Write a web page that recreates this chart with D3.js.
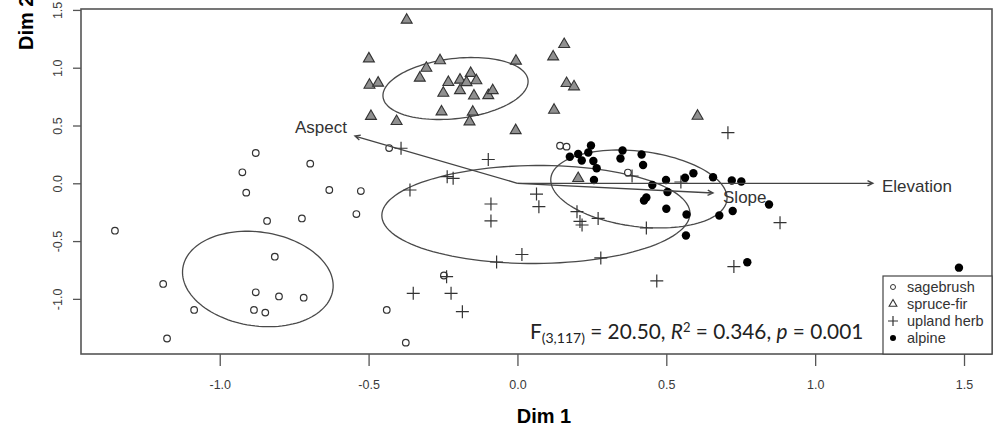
<!DOCTYPE html>
<html lang="en">
<head>
<meta charset="utf-8">
<title>NMDS of vegetation types</title>
<style>
  body { margin: 0; background: #fff; }
  svg { display: block; font-family: "Liberation Sans", Arial, sans-serif; }
  .tick line { stroke: #555; stroke-width: 1.3px; }
  .frame { fill: none; stroke: #555; stroke-width: 1.6px; }
  .ell { fill: none; stroke: #4a4a4a; stroke-width: 1.3px; }
  .vec { stroke: #444; stroke-width: 1.3px; fill: none; }
  .veclab { fill: #333; font-size: 17px; }
  .sage { fill: #fff; stroke: #333; stroke-width: 1.2px; }
  .spruce { fill: #909090; stroke: #333; stroke-width: 1.1px; }
  .herb { stroke: #333; stroke-width: 1.2px; fill: none; }
  .alpine { fill: #000; }
  .legend text { fill: #333; font-size: 14.5px; }
</style>
<script src="https://cdnjs.cloudflare.com/ajax/libs/d3/7.8.5/d3.min.js"></script>
</head>
<body>
<script>
// site scores (Dim 1, Dim 2)
var sagebrush = [
  [-1.352, -0.410], [-0.879, 0.262], [-0.924, 0.095], [-0.911, -0.081], [-0.696, 0.170],
  [-0.632, -0.058], [-0.526, -0.067], [-0.541, -0.266], [-0.841, -0.326], [-0.724, -0.304],
  [-0.815, -0.635], [-1.190, -0.871], [-0.879, -0.943], [-0.801, -0.979], [-0.718, -0.990],
  [-1.086, -1.096], [-0.885, -1.096], [-0.847, -1.119], [-1.177, -1.343], [-0.431, 0.305],
  [-0.247, -0.798], [0.143, 0.325], [0.165, 0.317], [-0.439, -1.096], [-0.375, -1.379],
  [0.371, 0.093]
];
var spruceFir = [
  [-0.372, 1.413], [-0.499, 1.078], [-0.260, 1.062], [-0.306, 0.997], [-0.328, 0.911],
  [-0.005, 1.058], [0.157, 1.202], [0.120, 1.095], [-0.497, 0.850], [-0.468, 0.868],
  [-0.232, 0.874], [-0.193, 0.894], [-0.157, 0.952], [-0.138, 0.889], [-0.171, 0.872],
  [-0.249, 0.781], [-0.193, 0.803], [-0.146, 0.757], [-0.098, 0.760], [-0.083, 0.803],
  [0.165, 0.865], [0.190, 0.836], [-0.492, 0.580], [-0.406, 0.536], [-0.255, 0.619],
  [-0.150, 0.617], [-0.161, 0.533], [0.123, 0.634], [-0.006, 0.457], [0.605, 0.582],
  [0.204, 0.043]
];
var uplandHerb = [
  [-0.391, 0.303], [-0.098, 0.206], [-0.236, 0.057], [-0.216, 0.043], [-0.361, -0.058],
  [-0.089, -0.179], [-0.089, -0.326], [0.064, -0.093], [0.072, -0.202], [0.200, -0.246],
  [0.210, -0.330], [0.217, -0.361], [0.271, -0.304], [0.433, -0.387], [-0.070, -0.681],
  [0.015, -0.616], [0.280, -0.646], [0.468, -0.845], [-0.238, -0.808], [-0.350, -0.952],
  [-0.223, -0.952], [-0.185, -1.111], [0.707, 0.438], [0.549, 0.011], [0.882, -0.341],
  [0.727, -0.721], [0.385, 0.063]
];
var alpine = [
  [0.247, 0.327], [0.238, 0.266], [0.204, 0.253], [0.176, 0.230], [0.216, 0.197],
  [0.255, 0.193], [0.266, 0.130], [0.257, 0.029], [0.353, 0.284], [0.346, 0.215],
  [0.417, 0.249], [0.422, 0.158], [0.453, -0.015], [0.499, 0.029], [0.504, -0.075],
  [0.433, -0.123], [0.425, -0.149], [0.500, -0.220], [0.563, 0.048], [0.591, 0.087],
  [0.657, 0.052], [0.720, 0.024], [0.752, 0.016], [0.568, -0.270], [0.678, -0.279],
  [0.723, -0.240], [0.845, -0.183], [0.566, -0.452], [0.772, -0.683], [1.483, -0.730]
];

// group ellipses: centre and two conjugate semi-axes, in data units
var ellipseGroups = ["sagebrush", "spruce-fir", "upland herb", "alpine"];
var ellipseCentre = [[-0.872, -0.828], [-0.208, 0.820], [0.062, -0.270], [0.408, -0.049]];
var ellipseAxisU = [[0.252, -0.095], [0.2435, 0.0735], [0.5175, 0.0087], [0.2957, -0.0952]];
var ellipseAxisV = [[-0.0228, -0.402], [-0.0118, 0.258], [0.0, 0.424], [0.0158, 0.3235]];

// fitted environmental vectors
var vectorNames = ["Aspect", "Elevation", "Slope"];
var vectorTips = [[-0.546, 0.409], [1.194, 0.0], [0.657, -0.084]];

var xTicks = [-1.0, -0.5, 0.0, 0.5, 1.0, 1.5];
var yTicks = [-1.0, -0.5, 0.0, 0.5, 1.0, 1.5];
var legendLabels = ["sagebrush", "spruce-fir", "upland herb", "alpine"];

var width = 994, height = 428;
var pLeft = 81, pRight = 992, pTop = 9, pBottom = 354;

var x = d3.scaleLinear().domain([-1.466, 1.594]).range([pLeft, pRight]);
var y = d3.scaleLinear().domain([-1.477, 1.508]).range([pBottom, pTop]);

var svg = d3.select("body").append("svg")
  .attr("width", width)
  .attr("height", height);

// axes
var xAxis = d3.axisBottom(x).tickValues(xTicks).tickSize(12)
  .tickFormat(function(d){ return d.toFixed(1); });
var yAxis = d3.axisLeft(y).tickValues(yTicks).tickSize(8)
  .tickFormat(function(d){ return d.toFixed(1); });

var gx = svg.append("g")
  .attr("class", "x axis")
  .attr("transform", "translate(0," + pBottom + ")")
  .call(xAxis);
gx.select(".domain").remove();
gx.selectAll(".tick text")
  .attr("y", 35).attr("dy", 0)
  .style("font-family", "'Liberation Sans', Arial, sans-serif")
  .style("font-size", "12.5px").style("fill", "#3a3a3a");

var gy = svg.append("g")
  .attr("class", "y axis")
  .attr("transform", "translate(" + pLeft + ",0)")
  .call(yAxis);
gy.select(".domain").remove();
gy.selectAll(".tick text")
  .attr("x", 0).attr("dy", 0)
  .attr("text-anchor", "middle")
  .attr("transform", "translate(-19,0) rotate(-90)")
  .style("font-family", "'Liberation Sans', Arial, sans-serif")
  .style("font-size", "12.5px").style("fill", "#3a3a3a");

svg.append("rect")
  .attr("class", "frame")
  .attr("x", pLeft).attr("y", pTop)
  .attr("width", pRight - pLeft).attr("height", pBottom - pTop);

svg.append("text")
  .attr("x", 544).attr("y", 423)
  .attr("text-anchor", "middle")
  .style("font-weight", "bold").style("font-size", "20px")
  .text("Dim 1");

svg.append("text")
  .attr("transform", "translate(33,50) rotate(-90)")
  .style("font-weight", "bold").style("font-size", "20px")
  .text("Dim 2");

// ellipses
var line = d3.line().curve(d3.curveLinearClosed);
var steps = d3.range(0, 2 * Math.PI, Math.PI / 60);
svg.append("g").selectAll("path")
  .data(ellipseGroups)
  .enter()
  .append("path")
  .attr("class", "ell")
  .attr("d", function(d, i){
    var c = ellipseCentre[i], u = ellipseAxisU[i], v = ellipseAxisV[i];
    return line(steps.map(function(t){
      return [x(c[0] + u[0] * Math.cos(t) + v[0] * Math.sin(t)),
              y(c[1] + u[1] * Math.cos(t) + v[1] * Math.sin(t))];
    }));
  });

// points
var pts = svg.append("g");
pts.selectAll(".sage")
  .data(sagebrush)
  .enter().append("circle")
  .attr("class", "sage")
  .attr("cx", function(d){ return x(d[0]); })
  .attr("cy", function(d){ return y(d[1]); })
  .attr("r", 3.3);

var tri = d3.symbol().type(d3.symbolTriangle).size(52);
pts.selectAll(".spruce")
  .data(spruceFir)
  .enter().append("path")
  .attr("class", "spruce")
  .attr("d", tri)
  .attr("transform", function(d){ return "translate(" + x(d[0]) + "," + y(d[1]) + ")"; });

pts.selectAll(".herb")
  .data(uplandHerb)
  .enter().append("path")
  .attr("class", "herb")
  .attr("d", function(d){
    var px = x(d[0]), py = y(d[1]), a = 6.5;
    return "M" + (px - a) + "," + py + "H" + (px + a) + "M" + px + "," + (py - a) + "V" + (py + a);
  });

pts.selectAll(".alpine")
  .data(alpine)
  .enter().append("circle")
  .attr("class", "alpine")
  .attr("cx", function(d){ return x(d[0]); })
  .attr("cy", function(d){ return y(d[1]); })
  .attr("r", 4.2);

// environmental vectors
var vec = svg.append("g");
vectorTips.forEach(function(t, i){
  var x0 = x(0), y0 = y(0), x1 = x(t[0]), y1 = y(t[1]);
  var ang = Math.atan2(y1 - y0, x1 - x0), h = 6, s = Math.PI / 7;
  vec.append("path")
    .attr("class", "vec")
    .attr("d", "M" + x0 + "," + y0 + "L" + x1 + "," + y1 +
      "M" + (x1 - h * Math.cos(ang - s)) + "," + (y1 - h * Math.sin(ang - s)) +
      "L" + x1 + "," + y1 +
      "L" + (x1 - h * Math.cos(ang + s)) + "," + (y1 - h * Math.sin(ang + s)));
});
var labelPlace = {
  "Aspect": {dx: -8, dy: -3, anchor: "end"},
  "Elevation": {dx: 9, dy: 9, anchor: "start"},
  "Slope": {dx: 10, dy: 10, anchor: "start"}
};
vec.selectAll("text")
  .data(vectorNames)
  .enter().append("text")
  .attr("class", "veclab")
  .attr("x", function(d, i){ return x(vectorTips[i][0]) + labelPlace[d].dx; })
  .attr("y", function(d, i){ return y(vectorTips[i][1]) + labelPlace[d].dy; })
  .attr("text-anchor", function(d){ return labelPlace[d].anchor; })
  .text(function(d){ return d; });

// statistic
var stat = svg.append("text")
  .attr("x", 530).attr("y", 339)
  .style("font-family", "Lato, 'Open Sans', sans-serif")
  .style("font-size", "20.8px")
  .style("fill", "#222");
stat.append("tspan").text("F");
stat.append("tspan").attr("dy", 4).style("font-size", "14px").text("(3,117)");
stat.append("tspan").attr("dy", -4).text(" = 20.50, ");
stat.append("tspan").style("font-style", "italic").text("R");
stat.append("tspan").attr("dy", -7).style("font-size", "13px").text("2");
stat.append("tspan").attr("dy", 7).text(" = 0.346, ");
stat.append("tspan").style("font-style", "italic").text("p");
stat.append("tspan").text(" = 0.001");

// legend
var lg = svg.append("g").attr("class", "legend");
lg.append("rect")
  .attr("x", 883).attr("y", 276)
  .attr("width", pRight - 883).attr("height", pBottom - 276)
  .attr("fill", "#fff").attr("stroke", "#444").attr("stroke-width", 1.2);
var row = d3.scalePoint().domain(legendLabels).range([287, 338]);
lg.append("circle").attr("class", "sage")
  .attr("cx", 893).attr("cy", row("sagebrush")).attr("r", 2.5).style("stroke-width", "1px");
lg.append("path").attr("class", "spruce")
  .attr("d", d3.symbol().type(d3.symbolTriangle).size(26))
  .attr("transform", "translate(893," + row("spruce-fir") + ")")
  .style("fill", "#fff");
lg.append("path").attr("class", "herb")
  .attr("d", "M888," + row("upland herb") + "H898M893," + (row("upland herb") - 5) + "V" + (row("upland herb") + 5));
lg.append("circle").attr("class", "alpine")
  .attr("cx", 893).attr("cy", row("alpine")).attr("r", 3);
lg.selectAll("text")
  .data(legendLabels)
  .enter().append("text")
  .attr("x", 907)
  .attr("y", function(d){ return row(d); })
  .attr("dy", "0.35em")
  .text(function(d){ return d; });
</script>
</body>
</html>
